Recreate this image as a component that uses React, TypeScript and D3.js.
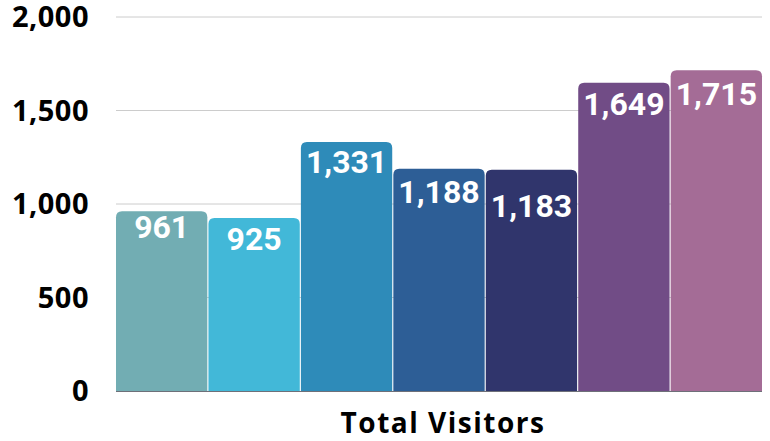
import React, { useEffect, useRef } from 'react';
import * as d3 from 'd3';

const category = 'Total Visitors';
const seriesNames = ['S1', 'S2', 'S3', 'S4', 'S5', 'S6', 'S7'];
const seriesValues = [961, 925, 1331, 1188, 1183, 1649, 1715];
const barColors = ['#72adb3', '#42b8d8', '#2e8bb9', '#2d5e96', '#30356c', '#714c86', '#a46c96'];
const yTicks = [0, 500, 1000, 1500, 2000];

// label overlap nudges (px), mimics the original's label shifting
const labelNudge = [-5, 0, -1, 2, 15, 0, 3];

const W = 770;
const H = 441;
const margin = { top: 17, right: 8, bottom: 50, left: 116 };

const App = () => {
  const ref = useRef<SVGSVGElement | null>(null);

  useEffect(() => {
    const svg = d3.select(ref.current);
    svg.selectAll('*').remove();

    const y = d3
      .scaleLinear()
      .domain([0, 2000])
      .range([H - margin.bottom, margin.top]);

    const x = d3
      .scaleBand<number>()
      .domain(d3.range(seriesValues.length))
      .range([margin.left, W - margin.right])
      .paddingInner(0.012)
      .paddingOuter(0);

    // grid
    svg
      .append('g')
      .selectAll('line')
      .data(yTicks.filter((t) => t > 0))
      .join('line')
      .attr('x1', margin.left)
      .attr('x2', W - margin.right)
      .attr('y1', (d) => y(d))
      .attr('y2', (d) => y(d))
      .attr('stroke', '#cccccc')
      .attr('stroke-width', 1);

    // y labels
    svg
      .append('g')
      .selectAll('text')
      .data(yTicks)
      .join('text')
      .attr('x', 89)
      .attr('y', (d) => y(d))
      .attr('dy', '0.36em')
      .attr('text-anchor', 'end')
      .style('font-family', '"Open Sans", sans-serif')
      .style('font-weight', 700)
      .style('font-size', '29px')
      .style('letter-spacing', '0.5px')
      .attr('fill', '#000')
      .text((d) => d3.format(',')(d));

    const r = 6;
    const barPath = (i: number) => {
      const x0 = x(i) as number;
      const w = x.bandwidth();
      const y0 = y(seriesValues[i]);
      const yb = y(0);
      return `M${x0},${yb}V${y0 + r}Q${x0},${y0} ${x0 + r},${y0}H${x0 + w - r}Q${x0 + w},${y0} ${x0 + w},${y0 + r}V${yb}Z`;
    };

    svg
      .append('g')
      .selectAll('path')
      .data(seriesNames)
      .join('path')
      .attr('d', (_, i) => barPath(i))
      .attr('fill', (_, i) => barColors[i]);

    // axis line
    svg
      .append('line')
      .attr('x1', margin.left)
      .attr('x2', W - margin.right)
      .attr('y1', y(0) + 0.5)
      .attr('y2', y(0) + 0.5)
      .attr('stroke', '#6e7079')
      .attr('stroke-width', 1);

    // value labels
    svg
      .append('g')
      .selectAll('text')
      .data(seriesValues)
      .join('text')
      .attr('x', (_, i) => (x(i) as number) + x.bandwidth() / 2)
      .attr('y', (d, i) => y(d) + 32 + labelNudge[i])
      .attr('text-anchor', 'middle')
      .style('font-family', 'Roboto, sans-serif')
      .style('font-weight', 700)
      .style('font-size', '32px')
      .attr('fill', '#ffffff')
      .text((d) => d3.format(',')(d));

    // category label
    svg
      .append('text')
      .attr('x', 443)
      .attr('y', 433)
      .attr('text-anchor', 'middle')
      .style('font-family', '"Open Sans", sans-serif')
      .style('font-weight', 700)
      .style('font-size', '28px')
      .style('letter-spacing', '1.5px')
      .attr('fill', '#000')
      .text(category);
  }, []);

  return (
    <div style={{ position: 'fixed', left: 0, top: 0 }}>
      <svg ref={ref} width={W} height={H} style={{ display: 'block', background: '#fff' }}></svg>
    </div>
  );
};

export default App;
